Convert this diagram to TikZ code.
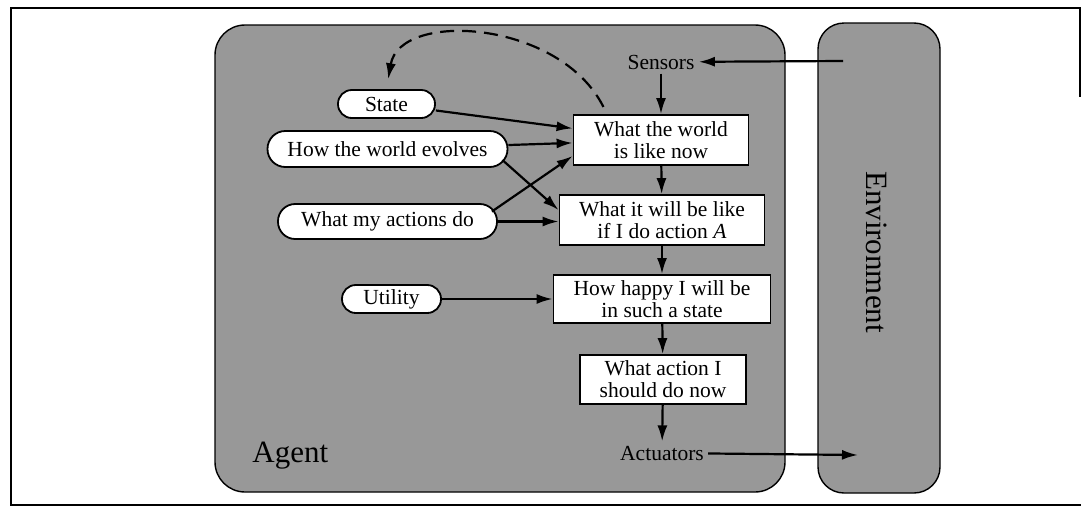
\documentclass[tikz,border=0pt]{standalone}
\usepackage{fontspec}
\setmainfont{Liberation Serif}
\usetikzlibrary{arrows.meta}
\definecolor{stip}{RGB}{152,152,152}
\begin{document}
\begin{tikzpicture}[x=0.5pt,y=-0.5pt,
  font=\fontsize{10.75}{11}\selectfont,
  arr/.style={-{Latex[length=8pt,width=5pt]}, line width=1.1pt},
  panel/.style={draw=black, line width=0.7pt, fill=stip},
  boxnode/.style={draw, line width=0.9pt, fill=white, align=center, inner sep=0pt, minimum height=25pt},
  oval/.style={draw, line width=0.9pt, fill=white, inner sep=0pt},
  plain/.style={inner sep=2pt},
  biglabel/.style={font=\fontsize{15.5}{16}\selectfont, inner sep=0pt},
]
\useasboundingbox (0,0) rectangle (1081,509);
% scan frame
\draw[line width=0.6pt] (1081,8) -- (11,8) -- (11,505) -- (1081,505);
\draw[line width=0.6pt] (1080,8) -- (1080,97);
% panels
\draw[panel, rounded corners=15pt] (215,25) rectangle (785,492);
\draw[panel, rounded corners=13pt] (818,23) rectangle (940,493);
% labels
\node[biglabel, anchor=base west] (agent) at (252,462) {Agent};
\node[biglabel, rotate=-90] (env) at (877,252) {Environment};
\node[plain] (sensors) at (661,62) {Sensors};
\node[plain] (actuators) at (662,453) {Actuators};
\coordinate (envin) at (843,61);
\coordinate (envout) at (858,455);
% boxes
\node[boxnode, minimum width=87.5pt] (wnow) at (661,140) {What the world\\is like now};
\node[boxnode, minimum width=102.5pt] (will) at (662,220) {What it will be like\\if I do action \textit{A}};
\node[boxnode, minimum width=108.5pt, minimum height=24pt] (happy) at (662,299) {How happy I will be\\in such a state};
\node[boxnode, minimum width=83pt, minimum height=24.5pt] (act) at (663,379.5) {What action I\\should do now};
% ovals
\node[oval, minimum width=48.5pt, minimum height=14pt, rounded corners=6.9pt] (state) at (386.5,104) {State};
\node[oval, minimum width=120pt, minimum height=18pt, rounded corners=8.9pt] (evolves) at (387.5,149) {How the world evolves};
\node[oval, minimum width=109.5pt, minimum height=17.5pt, rounded corners=8.6pt] (actions) at (387.5,221.5) {What my actions do};
\node[oval, minimum width=49.5pt, minimum height=14pt, rounded corners=6.9pt] (utility) at (391.5,299) {Utility};
% connectors
\draw[arr] (envin) -- (sensors);
\draw[arr] (sensors) -- (wnow);
\draw[arr] (state) -- (wnow);
\draw[arr] (evolves) -- (wnow);
\draw[arr] ([xshift=-3pt,yshift=-5.5pt]evolves.east) -- ([yshift=5pt]will.west);
\draw[arr] ([xshift=-3pt,yshift=5pt]actions.east) -- ([yshift=-8pt]wnow.west);
\draw[arr] (actions.east) -- (actions.east -| will.west);
\draw[arr] (wnow) -- (will);
\draw[arr] (will) -- (happy);
\draw[arr] (utility.east) -- (utility.east -| happy.west);
\draw[arr] (happy) -- (act);
\draw[arr] (act) -- (actuators);
\draw[arr] (actuators) -- (envout);
\draw[arr, dash pattern=on 7pt off 4pt, shorten <=4pt, shorten >=5pt] ([xshift=-27pt]wnow.north) .. controls (560,20) and (400,10) .. (state.north);
\end{tikzpicture}
\end{document}
